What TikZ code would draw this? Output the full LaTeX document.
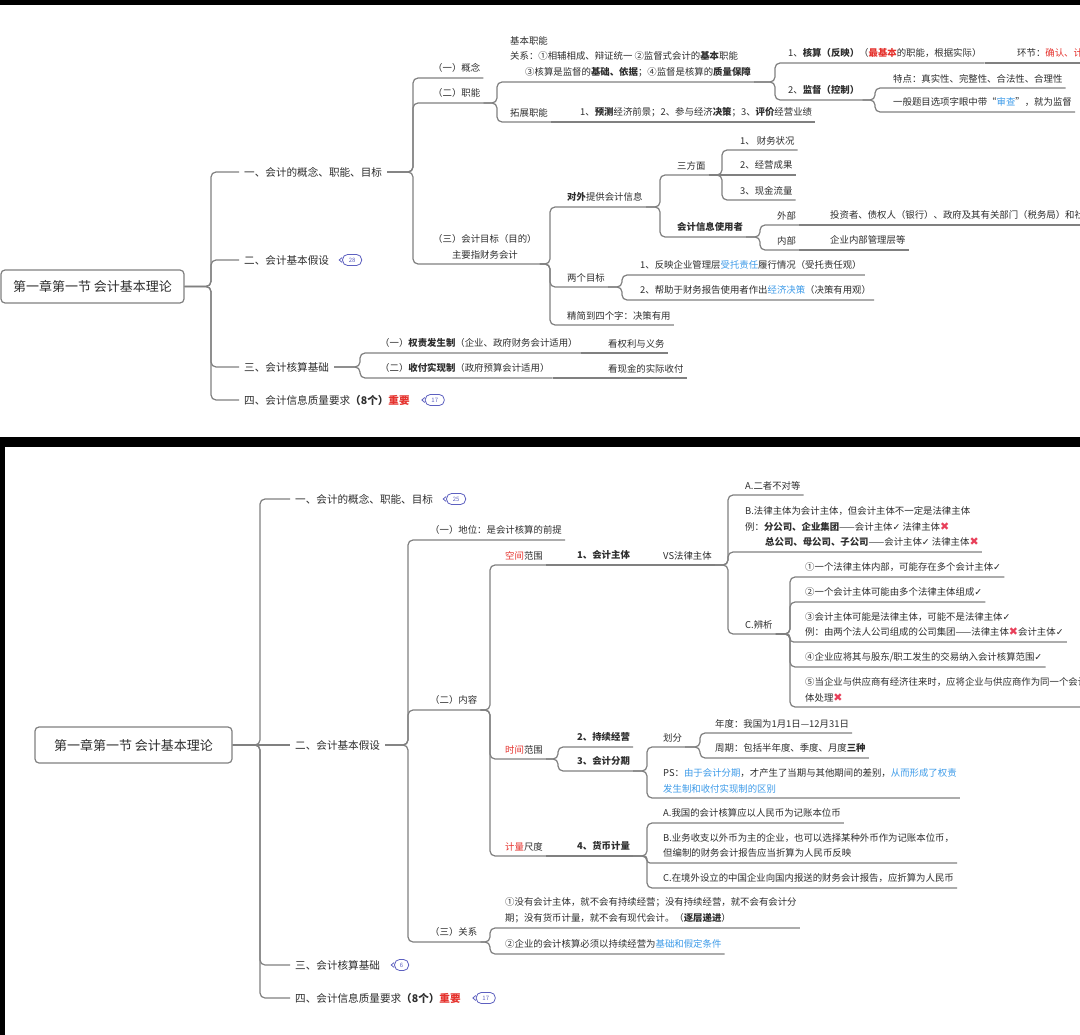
\documentclass[tikz,border=0pt]{standalone}
\usepackage{fontspec}
\setmainfont{Noto Sans CJK SC}
\newfontfamily\symfont{DejaVu Sans}
\usetikzlibrary{positioning}

\definecolor{ink}{HTML}{2E2E2E}
\definecolor{ln}{HTML}{808080}
\definecolor{hot}{HTML}{E5322D}
\definecolor{sky}{HTML}{3D9BE9}
\definecolor{bdg}{HTML}{5D60C0}
\definecolor{xred}{HTML}{E8405A}

\newcommand{\redtxt}[1]{\textcolor{hot}{#1}}
\newcommand{\bluetxt}[1]{\textcolor{sky}{#1}}
\newcommand{\tickmark}{{\symfont ✓}}
\newcommand{\crossmark}{\textcolor{xred}{\symfont\fontsize{11}{15.5}\selectfont ✖}}
\newcommand{\lvroot}{\fontsize{13}{15}\selectfont}
\newcommand{\lvone}{\fontsize{10.6}{13}\selectfont}
\newcommand{\lvtwo}{\fontsize{9.4}{15.5}\selectfont}

\tikzset{
  rootbox/.style={draw=ln, line width=1.2pt, rounded corners=4pt, font=\lvroot, text=ink, inner sep=0pt},
  topic/.style={anchor=west, font=\lvone, text=ink, inner xsep=5pt, inner ysep=2pt},
  leaf/.style={anchor=south west, font=\lvtwo, text=ink, inner xsep=3pt, inner ysep=5pt, align=left},
  branch/.style={draw=ln, line width=1.2pt, rounded corners=5pt},
  badge/.style={draw=bdg, text=bdg, line width=0.8pt, rounded corners=5pt, minimum width=19pt,
    minimum height=11pt, inner sep=0pt, font=\fontsize{6}{6}\selectfont},
}

\begin{document}
\begin{tikzpicture}[x=1pt, y=-1pt]
\useasboundingbox (0,0) rectangle (1080,1035);
\clip (0,0) rectangle (1080,1035);
\fill[black] (0,0) rectangle (1080,1035);
\fill[white] (0,5) rectangle (1080,437);
\fill[white] (5,447) rectangle (1080,1035);

% upper map
\node[rootbox, minimum width=183pt, minimum height=33pt] (rt) at (92.5,286.5) {第一章第一节 会计基本理论};
\coordinate (rt-f) at (211,286.5);
\node[topic] (t1) at (239,172) {一、会计的概念、职能、目标};
\node[topic] (t2) at (239,260) {二、会计基本假设};
\node[badge, right=8pt of t2] (t2b) {28};
\node[topic] (t3) at (239,367) {三、会计核算基础};
\node[topic] (t4) at (239,400) {四、会计信息质量要求\textbf{（8个）}\redtxt{\textbf{重要}}};
\node[badge, right=10pt of t4] (t4b) {17};
\foreach \n in {t1,t2,t3,t4} \draw[branch] (rt.east) -- (rt-f) |- (\n.west);

\coordinate (t1-f) at (413,172);
\node[leaf] (u1) at (430,78) {（一）概念};
\node[leaf] (u2) at (430,103) {（二）职能};
\node[leaf, align=center] (u3) at (430,264) {（三）会计目标（目的）\\主要指财务会计};
\foreach \n in {u1,u2,u3} \draw[branch] (t1.east) -- (t1-f) |- (\n.south west) -- (\n.south east);

\coordinate (u2-f) at (497,103);
\node[leaf] (fn1) at (507,82) {基本职能\\关系：①相辅相成、辩证统一 ②监督式会计的\textbf{基本}职能\\\hspace*{15pt}③核算是监督的\textbf{基础、依据}；④监督是核算的\textbf{质量保障}};
\node[leaf] (fn2) at (507,122) {拓展职能};
\node[leaf] (fn2a) at (577,122) {1、\textbf{预测}经济前景；2、参与经济\textbf{决策}；3、\textbf{评价}经营业绩};
\foreach \n in {fn1,fn2} \draw[branch] (u2.south east) -- (u2-f) |- (\n.south west) -- (\n.south east);
\draw[branch] (fn2.south east) -- (fn2a.south west) -- (fn2a.south east);

\coordinate (fn1-f) at (775,82);
\node[leaf] (acc) at (785,63) {1、\textbf{核算（反映）}（\redtxt{\textbf{最基本}}的职能，根据实际）};
\node[leaf] (accx) at (1014,63) {环节：\redtxt{确认、计量、记录、报告}};
\node[leaf] (sup) at (785,100) {2、\textbf{监督（控制）}};
\foreach \n in {acc,sup} \draw[branch] (fn1.south east) -- (fn1-f) |- (\n.south west) -- (\n.south east);
\draw[branch] (acc.south east) -- (accx.south west) -- (accx.south east);
\coordinate (sup-f) at (875,100);
\node[leaf] (sup1) at (890,88) {特点：真实性、完整性、合法性、合理性};
\node[leaf] (sup2) at (890,112) {一般题目选项字眼中带“\bluetxt{审查}”，就为监督};
\foreach \n in {sup1,sup2} \draw[branch] (sup.south east) -- (sup-f) |- (\n.south west) -- (\n.south east);

\coordinate (u3-f) at (550,264);
\node[leaf] (ob1) at (564,207) {\textbf{对外}提供会计信息};
\node[leaf] (ob2) at (564,287) {两个目标};
\node[leaf] (ob3) at (564,325) {精简到四个字：决策有用};
\foreach \n in {ob1,ob2,ob3} \draw[branch] (u3.south east) -- (u3-f) |- (\n.south west) -- (\n.south east);

\coordinate (ob1-f) at (660,207);
\node[leaf] (asp) at (674,175) {三方面};
\node[leaf] (usr) at (674,237) {\textbf{会计信息使用者}};
\foreach \n in {asp,usr} \draw[branch] (ob1.south east) -- (ob1-f) |- (\n.south west) -- (\n.south east);
\coordinate (asp-f) at (722,175);
\node[leaf] (asp1) at (737,150) {1、 财务状况};
\node[leaf] (asp2) at (737,175) {2、经营成果};
\node[leaf] (asp3) at (737,200) {3、现金流量};
\foreach \n in {asp1,asp3} \draw[branch] (asp.south east) -- (asp-f) |- (\n.south west) -- (\n.south east);
\draw[branch] (asp.south east) -- (asp2.south west) -- (asp2.south east);
\coordinate (usr-f) at (760,237);
\node[leaf] (usr1) at (774,225) {外部};
\node[leaf] (usr1a) at (827,225) {投资者、债权人（银行）、政府及其有关部门（税务局）和社会公众等};
\node[leaf] (usr2) at (774,250) {内部};
\node[leaf] (usr2a) at (827,250) {企业内部管理层等};
\foreach \n in {usr1,usr2} \draw[branch] (usr.south east) -- (usr-f) |- (\n.south west) -- (\n.south east);
\draw[branch] (usr1.south east) -- (usr1a.south west) -- (usr1a.south east);
\draw[branch] (usr2.south east) -- (usr2a.south west) -- (usr2a.south east);

\coordinate (ob2-f) at (622,287);
\node[leaf] (gl1) at (637,275) {1、反映企业管理层\bluetxt{受托责任}履行情况（受托责任观）};
\node[leaf] (gl2) at (637,300) {2、帮助于财务报告使用者作出\bluetxt{经济决策}（决策有用观）};
\foreach \n in {gl1,gl2} \draw[branch] (ob2.south east) -- (ob2-f) |- (\n.south west) -- (\n.south east);

\coordinate (t3-f) at (360,367);
\node[leaf] (bs1) at (377,353) {（一）\textbf{权责发生制}（企业、政府财务会计适用）};
\node[leaf] (bs1a) at (605,353) {看权利与义务};
\node[leaf] (bs2) at (377,378) {（二）\textbf{收付实现制}（政府预算会计适用）};
\node[leaf] (bs2a) at (605,378) {看现金的实际收付};
\foreach \n in {bs1,bs2} \draw[branch] (t3.east) -- (t3-f) |- (\n.south west) -- (\n.south east);
\draw[branch] (bs1.south east) -- (bs1a.south west) -- (bs1a.south east);
\draw[branch] (bs2.south east) -- (bs2a.south west) -- (bs2a.south east);

% lower map
\node[rootbox, minimum width=197pt, minimum height=36pt] (rb) at (133.5,745) {第一章第一节 会计基本理论};
\coordinate (rb-f) at (260,745);
\node[topic] (s1) at (290,499) {一、会计的概念、职能、目标};
\node[badge, right=8pt of s1] (s1b) {25};
\node[topic] (s2) at (290,745) {二、会计基本假设};
\node[topic] (s3) at (290,965) {三、会计核算基础};
\node[badge, minimum width=14pt, right=9pt of s3] (s3b) {6};
\node[topic] (s4) at (290,998) {四、会计信息质量要求\textbf{（8个）}\redtxt{\textbf{重要}}};
\node[badge, right=10pt of s4] (s4b) {17};
\draw[branch] (rb.east) -- (s2.west);
\foreach \n in {s1,s3,s4} \draw[branch] (rb.east) -- (rb-f) |- (\n.west);

\coordinate (s2-f) at (408,745);
\node[leaf] (d1) at (427,540) {（一）地位：是会计核算的前提};
\node[leaf] (d2) at (427,710) {（二）内容};
\node[leaf] (d3) at (427,942) {（三）关系};
\foreach \n in {d1,d2,d3} \draw[branch] (s2.east) -- (s2-f) |- (\n.south west) -- (\n.south east);

\coordinate (d2-f) at (490,710);
\node[leaf] (sp) at (502,565) {\redtxt{空间}范围};
\node[leaf] (sp1) at (574,565) {\textbf{1、会计主体}};
\node[leaf] (sp2) at (660,565) {VS法律主体};
\node[leaf] (tm) at (502,759) {\redtxt{时间}范围};
\node[leaf] (ms) at (502,856) {\redtxt{计量}尺度};
\node[leaf] (ms1) at (574,856) {\textbf{4、货币计量}};
\foreach \n in {sp,tm,ms} \draw[branch] (d2.south east) -- (d2-f) |- (\n.south west) -- (\n.south east);
\draw[branch] (sp.south east) -- (sp1.south west) -- (sp1.south east) -- (sp2.south west) -- (sp2.south east);
\draw[branch] (ms.south east) -- (ms1.south west) -- (ms1.south east);

\coordinate (sp2-f) at (728,565);
\node[leaf] (ent1) at (742,495) {A.二者不对等};
\node[leaf] (ent2) at (742,552) {B.法律主体为会计主体，但会计主体不一定是法律主体\\例：\textbf{分公司、企业集团}——会计主体\tickmark\ 法律主体\crossmark\\\hspace*{20pt}\textbf{总公司、母公司、子公司}——会计主体\tickmark\ 法律主体\crossmark};
\node[leaf] (ent3) at (742,634) {C.辨析};
\foreach \n in {ent1,ent2,ent3} \draw[branch] (sp2.south east) -- (sp2-f) |- (\n.south west) -- (\n.south east);

\coordinate (ent3-f) at (790,634);
\node[leaf] (cx1) at (802,577) {①一个法律主体内部，可能存在多个会计主体\tickmark};
\node[leaf] (cx2) at (802,602) {②一个会计主体可能由多个法律主体组成\tickmark};
\node[leaf] (cx3) at (802,642) {③会计主体可能是法律主体，可能不是法律主体\tickmark\\例：由两个法人公司组成的公司集团——法律主体\crossmark 会计主体\tickmark};
\node[leaf] (cx4) at (802,667) {④企业应将其与股东/职工发生的交易纳入会计核算范围\tickmark};
\node[leaf] (cx5) at (802,707) {⑤当企业与供应商有经济往来时，应将企业与供应商作为同一个会计主\\体处理\crossmark};
\foreach \n in {cx1,cx2,cx4,cx5} \draw[branch] (ent3.south east) -- (ent3-f) |- (\n.south west) -- (\n.south east);
\draw[branch, rounded corners=3.5pt] (ent3.south east) -- (ent3-f) |- (cx3.south west) -- (cx3.south east);

\coordinate (tm-f) at (558,759);
\node[leaf] (tm1) at (574,747) {\textbf{2、持续经营}};
\node[leaf] (tm2) at (574,771) {\textbf{3、会计分期}};
\foreach \n in {tm1,tm2} \draw[branch] (tm.south east) -- (tm-f) |- (\n.south west) -- (\n.south east);
\coordinate (tm2-f) at (647,771);
\node[leaf] (dv) at (660,747) {划分};
\node[leaf] (ps) at (660,798) {PS：\bluetxt{由于会计分期}，才产生了当期与其他期间的差别，\bluetxt{从而形成了权责}\\\bluetxt{发生制和收付实现制的区别}};
\foreach \n in {dv,ps} \draw[branch] (tm2.south east) -- (tm2-f) |- (\n.south west) -- (\n.south east);
\coordinate (dv-f) at (700,747);
\node[leaf] (dv1) at (712,733) {年度：我国为1月1日—12月31日};
\node[leaf] (dv2) at (712,758) {周期：包括半年度、季度、月度\textbf{三种}};
\foreach \n in {dv1,dv2} \draw[branch] (dv.south east) -- (dv-f) |- (\n.south west) -- (\n.south east);

\coordinate (ms1-f) at (647,856);
\node[leaf] (cur1) at (660,823) {A.我国的会计核算应以人民币为记账本位币};
\node[leaf] (cur2) at (660,863) {B.业务收支以外币为主的企业，也可以选择某种外币作为记账本位币，\\但编制的财务会计报告应当折算为人民币反映};
\node[leaf] (cur3) at (660,888) {C.在境外设立的中国企业向国内报送的财务会计报告，应折算为人民币};
\foreach \n in {cur1,cur3} \draw[branch] (ms1.south east) -- (ms1-f) |- (\n.south west) -- (\n.south east);
\draw[branch, rounded corners=3pt] (ms1.south east) -- (ms1-f) |- (cur2.south west) -- (cur2.south east);

\coordinate (d3-f) at (490,942);
\node[leaf] (rl1) at (502,928) {①没有会计主体，就不会有持续经营；没有持续经营，就不会有会计分\\期；没有货币计量，就不会有现代会计。（\textbf{逐层递进}）};
\node[leaf] (rl2) at (502,954) {②企业的会计核算必须以持续经营为\bluetxt{基础和假定条件}};
\foreach \n in {rl1,rl2} \draw[branch] (d3.south east) -- (d3-f) |- (\n.south west) -- (\n.south east);

% badge tips
\foreach \b in {t2b,t4b,s1b,s3b,s4b}
  \draw[bdg, line width=0.8pt] ([yshift=2.5pt]\b.west) -- ([xshift=-3pt]\b.west) -- ([yshift=-2.5pt]\b.west);
\end{tikzpicture}
\end{document}
